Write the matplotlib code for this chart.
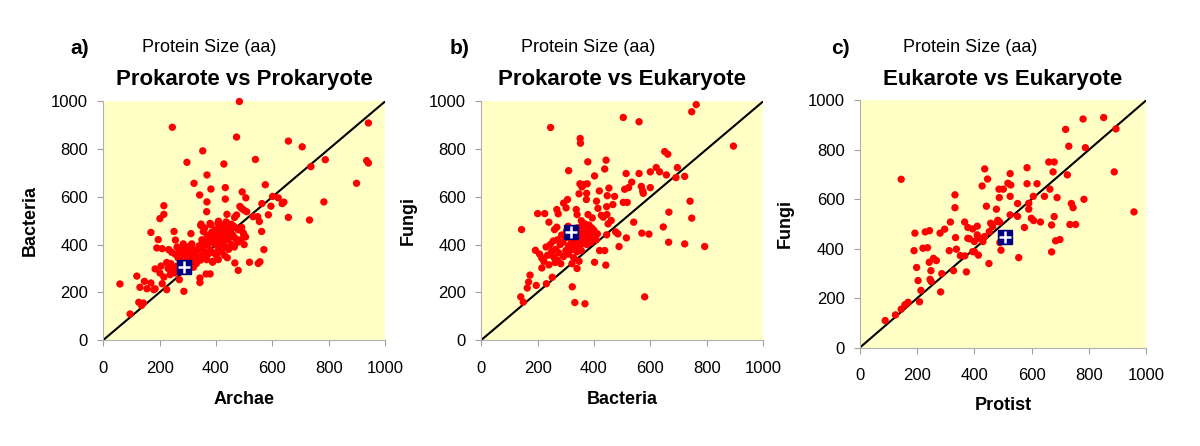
import matplotlib
matplotlib.use("Agg")
import matplotlib.pyplot as plt
import numpy as np

plt.rcParams['font.family'] = ['Liberation Sans', 'DejaVu Sans']

# ---------------- data ----------------
ticks = [0, 200, 400, 600, 800, 1000]

a_x = [483, 245, 473, 941, 657, 706, 353, 540, 788, 297, 428, 737, 935, 941, 368, 322, 899, 382, 433, 575,
       342, 493, 433, 506, 601, 621, 368, 563, 641, 635, 783, 215, 595, 485, 491, 499, 509, 367, 215, 201,
       439, 473, 466, 586, 657, 532, 548, 554, 732, 407, 436, 445, 346, 382, 169, 251, 311, 430, 438, 452,
       491, 562, 499, 505, 195, 256,
       347, 379, 409, 436, 355, 368, 385, 398, 410, 422, 432, 445, 455, 462, 470, 480, 360, 375, 390, 400,
       412, 420, 428, 440, 450, 460, 470, 478, 488, 350, 362, 372, 385, 395, 405, 415, 425, 435, 445, 455,
       465, 284, 314, 190, 209, 232, 243, 262, 270, 285, 295, 305, 318, 325, 335, 340, 352, 360, 372, 380,
       392, 402, 410, 420, 430, 440, 350, 338, 322, 308, 298, 280, 265, 255, 275, 290, 300, 315, 330, 345,
       408, 388, 367, 467, 479, 497, 500, 519, 550, 556, 570, 388,
       184, 201, 215, 237, 255, 272, 119, 130, 146, 155, 169, 179, 184, 209, 225, 270, 286, 343, 365, 379,
       343, 59, 126, 142, 136, 95, 230, 250, 262, 300, 320, 240, 225, 205]
a_y = [1000, 892, 851, 910, 834, 810, 793, 757, 756, 745, 738, 727, 752, 742, 692, 657, 657, 633, 639, 651,
       608, 621, 591, 596, 602, 596, 579, 572, 578, 572, 579, 563, 561, 560, 552, 545, 538, 538, 527, 509,
       527, 524, 514, 525, 514, 517, 517, 497, 503, 490, 492, 484, 480, 483, 451, 455, 446, 462, 448, 462,
       472, 455, 441, 432, 421, 419,
       486, 489, 498, 495, 455, 440, 452, 462, 470, 478, 470, 478, 485, 478, 470, 462, 470, 430, 440, 430,
       445, 425, 435, 420, 430, 440, 425, 410, 420, 420, 410, 398, 415, 405, 395, 410, 400, 390, 380, 400,
       390, 403, 403, 386, 383, 379, 368, 390, 370, 385, 372, 392, 380, 365, 378, 395, 385, 370, 360, 375,
       365, 355, 380, 370, 355, 345, 355, 345, 352, 360, 350, 355, 345, 360, 330, 325, 340, 335, 320, 335,
       337, 330, 337, 323, 292, 449, 400, 326, 321, 328, 379, 326,
       298, 281, 264, 274, 281, 288, 268, 221, 246, 215, 239, 211, 215, 236, 211, 253, 204, 260, 277, 277,
       241, 235, 158, 155, 145, 109, 300, 295, 310, 300, 305, 320, 325, 310]
a_mean = (285, 308)

b_x = [763, 747, 504, 560, 246, 895, 351, 352, 651, 662, 378, 443, 310, 438, 696, 402, 514, 560, 600, 621,
       633, 657, 691, 722, 534, 523, 509, 350, 365, 376, 357, 453, 568, 575, 573, 600, 419, 447, 473, 347,
       374, 306, 292, 373, 409, 414, 445, 467, 504, 518, 200, 225, 268, 273, 240, 301, 337, 340, 379, 394,
       426, 433, 446, 461, 450, 541, 666, 741, 747, 646, 268, 260, 302, 308, 143, 412, 408, 445, 477, 485,
       515, 570, 595, 665, 722, 793,
       355, 355, 367, 382, 340, 352, 365, 378, 392, 400, 330, 345, 360, 375, 388, 398, 325, 338, 350, 368,
       380, 395, 320, 335, 350, 362, 375, 390, 300, 290, 280, 270, 285, 310, 322, 340, 355, 420, 438, 489,
       442, 402, 340, 328, 340, 347, 300, 292, 282, 270, 257, 250, 235, 222, 240, 262, 252, 192, 207, 215,
       215, 173, 168, 163, 195, 231, 140, 149, 323, 332, 368, 580, 245, 255, 230, 265, 275, 310, 322]
b_y = [987, 957, 933, 915, 891, 813, 845, 825, 790, 779, 747, 754, 710, 717, 723, 688, 698, 698, 705, 723,
       705, 692, 681, 686, 662, 639, 632, 655, 652, 655, 642, 637, 644, 615, 625, 639, 625, 605, 602, 613,
       615, 589, 574, 589, 582, 552, 559, 568, 577, 577, 530, 530, 547, 529, 494, 554, 547, 526, 526, 512,
       523, 515, 526, 501, 487, 494, 536, 582, 511, 474, 473, 463, 456, 477, 463, 445, 420, 441, 453, 445,
       428, 448, 444, 410, 403, 392,
       500, 475, 487, 482, 470, 460, 462, 458, 470, 460, 455, 445, 440, 445, 435, 445, 430, 425, 420, 430,
       420, 425, 410, 400, 395, 405, 400, 410, 430, 410, 400, 420, 440, 395, 380, 380, 375, 375, 375, 392,
       314, 326, 370, 345, 300, 330, 375, 350, 320, 335, 348, 372, 355, 330, 315, 325, 263, 376, 360, 343,
       302, 272, 243, 218, 229, 236, 181, 159, 223, 157, 152, 181, 400, 415, 390, 380, 365, 360, 320]
b_mean = (317, 453)

c_x = [780, 852, 895, 719, 730, 788, 144, 436, 446, 427, 584, 660, 679, 675, 725, 889, 525, 517, 527, 584,
       619, 486, 501, 664, 332, 487, 525, 606, 645, 689, 783, 958, 739, 745, 551, 590, 590, 332, 442, 477,
       599, 607, 631, 679, 670, 734, 754, 525, 551, 575, 316, 366, 457, 482, 488, 296, 280, 243, 228, 192,
       334, 489, 493, 670, 684, 699, 555, 189, 220, 236, 312, 337, 400, 414, 242, 257, 267, 198, 248, 286,
       327, 351, 366, 372, 451, 203, 245, 249, 213, 282, 208, 168, 157, 144, 124, 88,
       377, 410, 394, 377, 383, 400, 412, 430, 435, 452, 464, 394, 481, 410]
c_y = [925, 931, 885, 883, 815, 809, 681, 723, 682, 654, 728, 751, 751, 711, 699, 711, 704, 665, 658, 663,
       663, 641, 641, 641, 618, 607, 612, 612, 612, 607, 600, 549, 583, 566, 583, 584, 560, 566, 572, 560,
       523, 514, 508, 530, 496, 498, 498, 537, 531, 486, 508, 508, 503, 515, 508, 479, 463, 473, 468, 463,
       445, 425, 394, 387, 432, 437, 364, 392, 402, 404, 392, 398, 388, 374, 345, 361, 352, 324, 311, 299,
       311, 372, 371, 306, 340, 271, 276, 267, 231, 225, 185, 183, 173, 155, 132, 109,
       486, 491, 480, 442, 440, 429, 442, 429, 449, 469, 490, 388, 510, 456]
c_mean = (507, 449)

panels = [
    dict(x=a_x, y=a_y, mean=a_mean, letter="a)", title="Prokarote vs Prokaryote",
         xlabel="Archae", ylabel="Bacteria"),
    dict(x=b_x, y=b_y, mean=b_mean, letter="b)", title="Prokarote vs Eukaryote",
         xlabel="Bacteria", ylabel="Fungi"),
    dict(x=c_x, y=c_y, mean=c_mean, letter="c)", title="Eukarote vs Eukaryote",
         xlabel="Protist", ylabel="Fungi"),
]

# ---------------- layout (pixels) ----------------
W, H = 1200, 446
fig = plt.figure(figsize=(W / 100, H / 100), dpi=100)
fig.patch.set_facecolor('white')

# (left, right, top, bottom) in px, letter x, subtitle x, xlabel y, ylabel x
geo = [
    (103.3, 385.0, 101.5, 340.0, 80, 142, 400, 30),
    (481.3, 763.0, 101.5, 340.0, 460, 521, 400, 408),
    (860.0, 1146.0, 100.5, 347.5, 840, 903, 406, 785),
]

for p, (l, r, t, b, lx, sx, xly, yx) in zip(panels, geo):
    ax = fig.add_axes([l / W, 1 - b / H, (r - l) / W, (b - t) / H])
    ax.set_facecolor('#FFFFC6')
    ax.set_xlim(0, 1000)
    ax.set_ylim(0, 1000)
    ax.plot([0, 1000], [0, 1000], color='black', lw=1.5, zorder=2)
    ax.scatter(p['x'], p['y'], s=28, color='#FF0000', edgecolors='none', zorder=3, clip_on=False)
    ax.plot([p['mean'][0]], [p['mean'][1]], marker='s', ms=10, color='#000080',
            mec='#000080', zorder=4, linestyle='none')
    ax.plot([p['mean'][0]], [p['mean'][1]], marker='+', ms=8, mew=1.8, color='white',
            zorder=5, linestyle='none')
    ax.set_xticks(ticks)
    ax.set_yticks(ticks)
    ax.tick_params(axis='both', labelsize=12, length=4, width=0.8, color='#A0A0A0',
                   direction='out')
    ax.tick_params(axis='x', pad=11)
    ax.tick_params(axis='y', pad=7)
    for side in ['top', 'right']:
        ax.spines[side].set_visible(False)
    for side in ['left', 'bottom']:
        ax.spines[side].set_color('#B0B0B0')
        ax.spines[side].set_linewidth(0.8)

    cx = (l + r) / 2
    fig.text(cx / W, 1 - 80 / H, p['title'], ha='center', va='center',
             fontsize=16, fontweight='bold')
    fig.text(lx / W, 1 - 48 / H, p['letter'], ha='center', va='center',
             fontsize=15, fontweight='bold')
    fig.text(sx / W, 1 - 47 / H, "Protein Size (aa)", ha='left', va='center', fontsize=13)
    fig.text(cx / W, 1 - xly / H, p['xlabel'], ha='center', va='center',
             fontsize=13, fontweight='bold')
    fig.text(yx / W, 1 - ((t + b) / 2) / H, p['ylabel'], ha='center', va='center',
             fontsize=13, fontweight='bold', rotation=90)

fig.savefig("out.png", dpi=100, facecolor='white')
